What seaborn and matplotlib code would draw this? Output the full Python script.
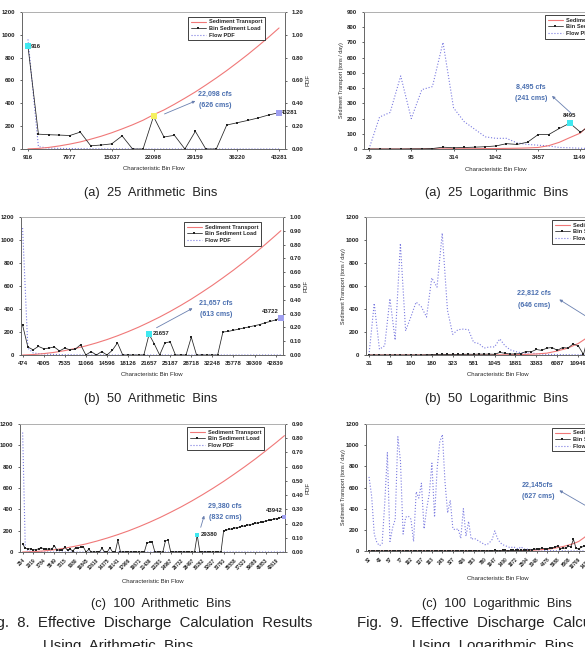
import numpy as np
import matplotlib

matplotlib.use('Agg')
import matplotlib.pyplot as plt
import seaborn as sns
from matplotlib.lines import Line2D

# ---- data ----
# (a) 25 bins
a_arith_ticks = ['916', '7977', '15037', '22098', '29159', '36220', '43281']
a_arith_load = [900, 130, 125, 122, 118, 148, 28, 35, 45, 115, 0, 0, 285, 105, 120, 0, 155, 0, 0,
                210, 230, 250, 272, 298, 318]
a_arith_red_idx = list(range(25))
a_arith_red = [1, 5, 14, 27, 43, 62, 86, 112, 142, 176, 212, 252, 300, 342, 392, 445, 500, 560, 622,
               687, 756, 827, 902, 979, 1060]
a_arith_pdf = [0.96, 0.02, 0.008, 0.005, 0.004, 0.003, 0.002, 0.002, 0.001, 0.001, 0, 0, 0, 0, 0, 0,
               0, 0, 0, 0, 0, 0, 0, 0, 0]

a_log_ticks = ['29', '95', '314', '1042', '3457', '11490', '38110']
a_log_load = [0, 0, 0, 0, 1, 1, 3, 12, 8, 10, 12, 15, 20, 35, 30, 45, 95, 95, 135, 170, 110, 160,
              220, 260, 300]
a_log_red_idx = list(range(25))
a_log_red = [0, 0, 0, 0, 0, 1, 1, 1, 2, 2, 2, 3, 3, 4, 5, 7, 10, 22, 44, 75, 105, 170, 280, 470, 800]
a_log_pdf = [0, 0.21, 0.24, 0.48, 0.20, 0.39, 0.41, 0.70, 0.27, 0.18, 0.13, 0.08, 0.07, 0.07, 0.04,
             0.03, 0.025, 0.02, 0.01, 0.008, 0.005, 0.003, 0.002, 0.001, 0]

# (b) 50 bins
b_arith_ticks = ['474', '4005', '7535', '11066', '14596', '18126', '21657', '25187', '28718',
                 '32248', '35778', '39309', '42839']
b_arith_load = [260, 70, 45, 75, 55, 60, 70, 35, 60, 45, 50, 90, 0, 30, 0, 30, 0, 40, 105, 0, 0, 0,
                0, 0, 180, 95, 0, 105, 115, 0, 0, 0, 155, 0, 0, 0, 0, 0, 200, 205, 215, 225, 235,
                245, 255, 265, 280, 292, 305, 325]
b_arith_red_idx = [0, 2, 4, 6, 8, 10, 12, 14, 16, 18, 20, 22, 24, 26, 28, 30, 32, 34, 36, 38, 40,
                   42, 44, 46, 48, 49]
b_arith_red = [0, 4, 12, 23, 38, 57, 79, 105, 134, 167, 203, 242, 285, 330, 379, 431, 486, 545, 606,
               671, 738, 809, 883, 960, 1040, 1081]
b_arith_pdf = [0.92, 0.05, 0.015, 0.01, 0.008, 0.005, 0.004, 0.003, 0.002, 0.002, 0.001, 0.001,
               0, 0, 0, 0, 0, 0, 0, 0, 0, 0, 0, 0, 0, 0, 0, 0, 0, 0, 0, 0, 0, 0, 0, 0, 0, 0, 0, 0,
               0, 0, 0, 0, 0, 0, 0, 0, 0, 0]

b_log_ticks = ['31', '55', '100', '180', '323', '581', '1045', '1881', '3383', '6087', '10949',
               '19700', '35440']
b_log_load = [0, 0, 0, 0, 0, 0, 0, 0, 0, 0, 0, 2, 3, 5, 6, 5, 6, 5, 6, 7, 6, 8, 7, 8, 6, 22, 15, 8,
              10, 12, 30, 28, 48, 40, 60, 65, 40, 65, 60, 95, 80, 5, 180, 150, 230, 260, 200, 240,
              280, 330]
b_log_red_idx = [0, 2, 4, 6, 8, 10, 12, 14, 16, 18, 20, 22, 24, 26, 28, 30, 32, 34, 36, 38, 40, 42,
                 44, 46, 48]
b_log_red = [0, 0, 0, 0, 0, 0, 0, 0, 0, 0, 0, 0, 1, 2, 3, 5, 9, 16, 35, 60, 100, 160, 260, 430, 760]
b_log_pdf = [0, 0.45, 0.05, 0.08, 0.49, 0.13, 0.97, 0.21, 0.33, 0.46, 0.42, 0.33, 0.67, 0.59, 1.06,
             0.39, 0.18, 0.22, 0.225, 0.22, 0.11, 0.10, 0.06, 0.07, 0.07, 0.14, 0.08, 0.045, 0.03,
             0.02, 0.015, 0.02, 0.01, 0.008, 0.005, 0.005, 0.004, 0.003, 0.003, 0.002, 0.002,
             0.001, 0.001, 0, 0, 0, 0, 0, 0, 0]

# (c) 100 bins
c_arith_ticks = ['254', '2019', '3784', '5549', '7315', '9080', '10845', '12610', '14375', '16141',
                 '17906', '19671', '21436', '23201', '24967', '26732', '28497', '30262', '32027',
                 '33793', '35558', '37323', '39088', '40853', '42619']
c_arith_load = [75, 35, 32, 28, 20, 22, 30, 40, 30, 25, 30, 25, 60, 15, 20, 20, 45, 15, 25, 10, 40,
                42, 45, 45, 0, 25, 0, 0, 0, 0, 35, 0, 0, 40, 0, 0, 110, 0, 0, 0, 0, 0, 0, 0, 0, 0,
                0, 85, 90, 90, 0, 0, 0, 0, 105, 110, 0, 0, 0, 0, 0, 0, 0, 0, 0, 0, 160, 0, 0, 0, 0,
                0, 0, 0, 0, 0, 200, 206, 211, 217, 223, 228, 234, 240, 245, 251, 257, 262, 268,
                274, 279, 285, 291, 296, 302, 308, 313, 319, 325, 330]
c_arith_red_idx = [0, 4, 8, 12, 16, 20, 24, 28, 32, 36, 40, 44, 48, 52, 56, 60, 64, 68, 72, 76, 80,
                   84, 88, 92, 96, 99]
c_arith_red = [0, 3, 10, 21, 36, 55, 76, 102, 131, 163, 198, 237, 279, 324, 373, 424, 479, 537, 598,
               662, 730, 800, 873, 950, 1029, 1091]
c_arith_pdf = [0.84, 0.03, 0.01, 0.005, 0.003, 0.002, 0.001, 0.001] + [0.0] * 92

c_log_ticks = ['32', '43', '57', '77', '102', '137', '183', '245', '327', '436', '583', '780', '1047',
               '1400', '1872', '2504', '3348', '4478', '5988', '8008', '10709', '14320', '19150',
               '25610', '34250']
c_log_load = [0] * 40 + [1, 1, 2, 1, 2, 2, 3, 2, 5, 4, 3, 5, 6, 4, 5, 6, 5, 7, 6, 8, 10, 8, 12, 15,
                         20, 18, 25, 22, 20, 28, 30, 35, 50, 20, 30, 25, 45, 40, 110, 25, 20, 35,
                         45, 60, 70, 90, 120, 160, 200, 240, 300, 260, 280, 320, 350, 380, 400, 430,
                         460, 500]
c_log_red_idx = list(range(0, 100, 2))
c_log_red = [0] * 26 + [2, 2, 3, 4, 5, 7, 10, 13, 17, 23, 32, 42, 55, 70, 90, 125, 165, 215, 285, 370,
                        470, 590, 730, 900]
c_log_pdf = [0.70, 0.52, 0.16, 0.08, 0.05, 0.07, 0.45, 0.93, 0.09, 0.22,
             0.30, 1.08, 0.85, 0.16, 0.32, 0.33, 0.30, 0.09, 0.56, 0.50,
             0.64, 0.21, 0.40, 0.54, 0.83, 0.32, 0.78, 1.03, 1.10, 0.65,
             0.36, 0.48, 0.21, 0.20, 0.21, 0.12, 0.40, 0.14, 0.28, 0.11,
             0.12, 0.11, 0.09, 0.08, 0.06, 0.06, 0.08, 0.11, 0.19, 0.12,
             0.08, 0.06, 0.05, 0.04, 0.03, 0.04, 0.03, 0.02, 0.04, 0.02,
             0.015, 0.02, 0.01, 0.015, 0.01, 0.008, 0.01, 0.005, 0.005, 0.003,
             0.003, 0.002, 0.002, 0.002, 0.002, 0.001, 0.001, 0.001, 0.001, 0.001,
             0, 0, 0, 0, 0, 0, 0, 0, 0, 0, 0, 0, 0, 0, 0, 0, 0, 0, 0, 0]

# ---- styling ----
sns.set_theme(style='ticks')
plt.rcParams['font.family'] = ['Liberation Sans', 'DejaVu Sans']
plt.rcParams['font.weight'] = 'bold'

W, H = 585, 647
fig = plt.figure(figsize=(W / 100, H / 100), dpi=100)

RED = '#f07878'
BLUE = '#7a7ae0'
BLK = '#222222'
ANNO = '#4a6fb0'
CYAN = '#40e8f0'


def rect(x0, y0, x1, y1):
    return [x0 / W, 1 - y1 / H, (x1 - x0) / W, (y1 - y0) / H]


def panel(box, load, red_idx, red, pdf, ticks, xlim, ymax, ystep, pmax, pstep, xlab_y,
          rotate=False, pdf_axis=True, leg_pos=(0.63, 0.965)):
    ax = fig.add_axes(rect(*box))
    ax2 = ax.twinx()
    ax.set_zorder(ax2.get_zorder() + 1)
    ax.patch.set_visible(False)
    x = np.arange(len(load))

    sns.lineplot(x=x, y=pdf, ax=ax2, color=BLUE, lw=0.8, linestyle=':')
    sns.lineplot(x=red_idx, y=red, ax=ax, color=RED, lw=0.8)
    sns.lineplot(x=x, y=load, ax=ax, color=BLK, lw=0.55, marker='s', markersize=1.5,
                 markeredgewidth=0)

    ax.set_xlim(*xlim)
    ax.set_ylim(0, ymax)
    ax2.set_ylim(0, pmax)
    ax.set_yticks(np.arange(0, ymax + 1, ystep))
    ax2.set_yticks(np.arange(0, pmax + 1e-6, pstep))
    ax2.set_yticklabels([f'{v:.2f}' for v in np.arange(0, pmax + 1e-6, pstep)])
    ax.set_xticks(np.arange(len(ticks)) * 4)
    if rotate:
        ax.set_xticklabels(ticks, rotation=45, ha='right', rotation_mode='anchor', fontsize=3.4)
    else:
        ax.set_xticklabels(ticks, fontsize=4.3)
    for a in (ax, ax2):
        a.tick_params(axis='y', labelsize=4.3, length=1.5, width=0.5, pad=3.5, colors='#222222')
        a.tick_params(axis='x', length=1.5, width=0.5, pad=2.5, colors='#222222')
        for s in a.spines.values():
            s.set_color('#666666')
            s.set_linewidth(0.6)
        a.spines['top'].set_color('#b0b0b0')
    ax.set_ylabel('')
    ax2.set_ylabel('')
    ax.set_xlabel('Characteristic Bin Flow', fontsize=4.3)
    ax.xaxis.label.set_va('center')
    ax.xaxis.set_label_coords(0.5, xlab_y)
    if pdf_axis:
        ax2.set_ylabel('PDF', fontsize=4.3)
        ax2.yaxis.label.set_va('center')
        ax2.yaxis.set_label_coords(1.087, 0.5)
    else:
        ax.set_ylabel('Sediment Transport (tons / day)', fontsize=3.9)
        ax.yaxis.label.set_va('center')
        ax.yaxis.set_label_coords(-22 / 263, 0.5)

    handles = [Line2D([], [], color=RED, lw=0.8),
               Line2D([], [], color=BLK, lw=0.55, marker='s', markersize=1.5, markeredgewidth=0),
               Line2D([], [], color=BLUE, lw=0.8, linestyle=':')]
    leg = ax.legend(handles, ['Sediment Transport', 'Bin Sediment Load', 'Flow PDF'],
                    loc='upper left', bbox_to_anchor=leg_pos, fontsize=4.1, frameon=True,
                    fancybox=False, framealpha=1, edgecolor='#222222', borderpad=0.45,
                    handlelength=2.8, handletextpad=0.5, labelspacing=0.3, borderaxespad=0)
    leg.get_frame().set_linewidth(0.6)
    return ax


def mark(ax, load, i, color, label=None, off=(3, 0), ha='left', va='center', size=14):
    ax.scatter([i], [load[i]], marker='s', s=size, color=color, zorder=5, linewidths=0)
    if label:
        ax.annotate(label, xy=(i, load[i]), xytext=off, textcoords='offset pixels', ha=ha, va=va,
                    fontsize=4.3, color='#222222', annotation_clip=False)


def callout(ax, cfs, cms, tx, ty1, ty2, head, tail):
    ax.text(tx, ty1, cfs, transform=ax.transAxes, ha='center', va='center', fontsize=5, color=ANNO)
    ax.text(tx, ty2, cms, transform=ax.transAxes, ha='center', va='center', fontsize=5, color=ANNO)
    ax.annotate('', xy=head, xytext=tail, xycoords='axes fraction', textcoords='axes fraction',
                arrowprops=dict(arrowstyle='-|>', color='#6a80b0', lw=0.6, mutation_scale=4))


# (a) left
ax = panel((22, 12, 285, 149), a_arith_load, a_arith_red_idx, a_arith_red, a_arith_pdf,
           a_arith_ticks, (-0.57, 24.57), 1200, 200, 1.2, 0.2, -0.139, leg_pos=(0.631, 0.964))
mark(ax, a_arith_load, 0, CYAN, '916', off=(3, 0))
mark(ax, a_arith_load, 12, '#f5f060')
mark(ax, a_arith_load, 24, '#a0a0f0', '43281', off=(2, 0))
callout(ax, '22,098 cfs', '(626 cms)', 0.734, 0.40, 0.314, (0.669, 0.358), (0.532, 0.248))

# (a) right
ax = panel((364, 12, 627, 149), a_log_load, a_log_red_idx, a_log_red, a_log_pdf, a_log_ticks,
           (-0.47, 24.4), 900, 100, 0.9, 0.1, -0.146, pdf_axis=False, leg_pos=(0.688, 0.978))
mark(ax, a_log_load, 19, CYAN, '8495', off=(0, 5), ha='center', va='bottom')
callout(ax, '8,495 cfs', '(241 cms)', 0.635, 0.453, 0.365, (0.707, 0.401), (0.795, 0.248))

# (b) left
ax = panel((21, 217, 283, 355), b_arith_load, b_arith_red_idx, b_arith_red, b_arith_pdf,
           b_arith_ticks, (-0.3, 49.4), 1200, 200, 1.0, 0.1, -0.138, leg_pos=(0.622, 0.964))
mark(ax, b_arith_load, 24, CYAN, '21657', off=(4, 1))
mark(ax, b_arith_load, 49, '#a0a0f0', '43722', off=(-2, 4), ha='right', va='bottom')
callout(ax, '21,657 cfs', '(613 cms)', 0.744, 0.377, 0.29, (0.664, 0.348), (0.508, 0.188))

# (b) right
ax = panel((366, 217, 629, 355), b_log_load, b_log_red_idx, b_log_red, b_log_pdf, b_log_ticks,
           (-0.57, 49.7), 1200, 200, 1.2, 0.2, -0.138, pdf_axis=False, leg_pos=(0.707, 0.978))
mark(ax, b_log_load, 45, CYAN, '22812', off=(-10, 8), ha='center', va='center')
callout(ax, '22,812 cfs', '(646 cms)', 0.639, 0.449, 0.362, (0.726, 0.413), (0.89, 0.217))

# (c) left
ax = panel((20, 424, 285, 552), c_arith_load, c_arith_red_idx, c_arith_red, c_arith_pdf,
           c_arith_ticks, (-1.0, 99.2), 1200, 200, 0.9, 0.1, -0.227, rotate=True,
           leg_pos=(0.63, 0.977))
mark(ax, c_arith_load, 66, CYAN, '29380', off=(4, 0), size=10)
mark(ax, c_arith_load, 99, '#a0a0f0', '43942', off=(-2, 4), ha='right', va='bottom', size=10)
callout(ax, '29,380 cfs', '(832 cms)', 0.774, 0.36, 0.266, (0.698, 0.305), (0.679, 0.172))

# (c) right
ax = panel((366, 424, 629, 551), c_log_load, c_log_red_idx, c_log_red, c_log_pdf, c_log_ticks,
           (-1.15, 99.2), 1200, 200, 1.2, 0.2, -0.22, rotate=True, pdf_axis=False,
           leg_pos=(0.707, 0.969))
mark(ax, c_log_load, 90, CYAN, '22145', off=(-8, 6), ha='center', va='center', size=10)
callout(ax, '22,145cfs', '(627 cms)', 0.654, 0.52, 0.433, (0.726, 0.488), (0.95, 0.22))

# captions
cap = dict(ha='center', va='center', fontsize=9.3, fontweight='normal', color='#222222')
fig.text(151 / W, 1 - 193 / H, '(a)  25  Arithmetic  Bins', **cap)
fig.text(497 / W, 1 - 193 / H, '(a)  25  Logarithmic  Bins', **cap)
fig.text(151 / W, 1 - 399 / H, '(b)  50  Arithmetic  Bins', **cap)
fig.text(497 / W, 1 - 399 / H, '(b)  50  Logarithmic  Bins', **cap)
fig.text(161 / W, 1 - 604 / H, '(c)  100  Arithmetic  Bins', **cap)
fig.text(497 / W, 1 - 604 / H, '(c)  100  Logarithmic  Bins', **cap)

figcap = dict(va='center', fontsize=10.8, fontweight='normal', color='#222222')
fig.text(312 / W, 1 - 623 / H, 'Fig.  8.  Effective  Discharge  Calculation  Results', ha='right',
         **figcap)
fig.text(43 / W, 1 - 646 / H, 'Using  Arithmetic  Bins', ha='left', **figcap)
fig.text(357 / W, 1 - 623 / H, 'Fig.  9.  Effective  Discharge  Calculation  Results', ha='left',
         **figcap)
fig.text(412 / W, 1 - 646 / H, 'Using  Logarithmic  Bins', ha='left', **figcap)

fig.savefig('out.png', dpi=100, facecolor='white')
